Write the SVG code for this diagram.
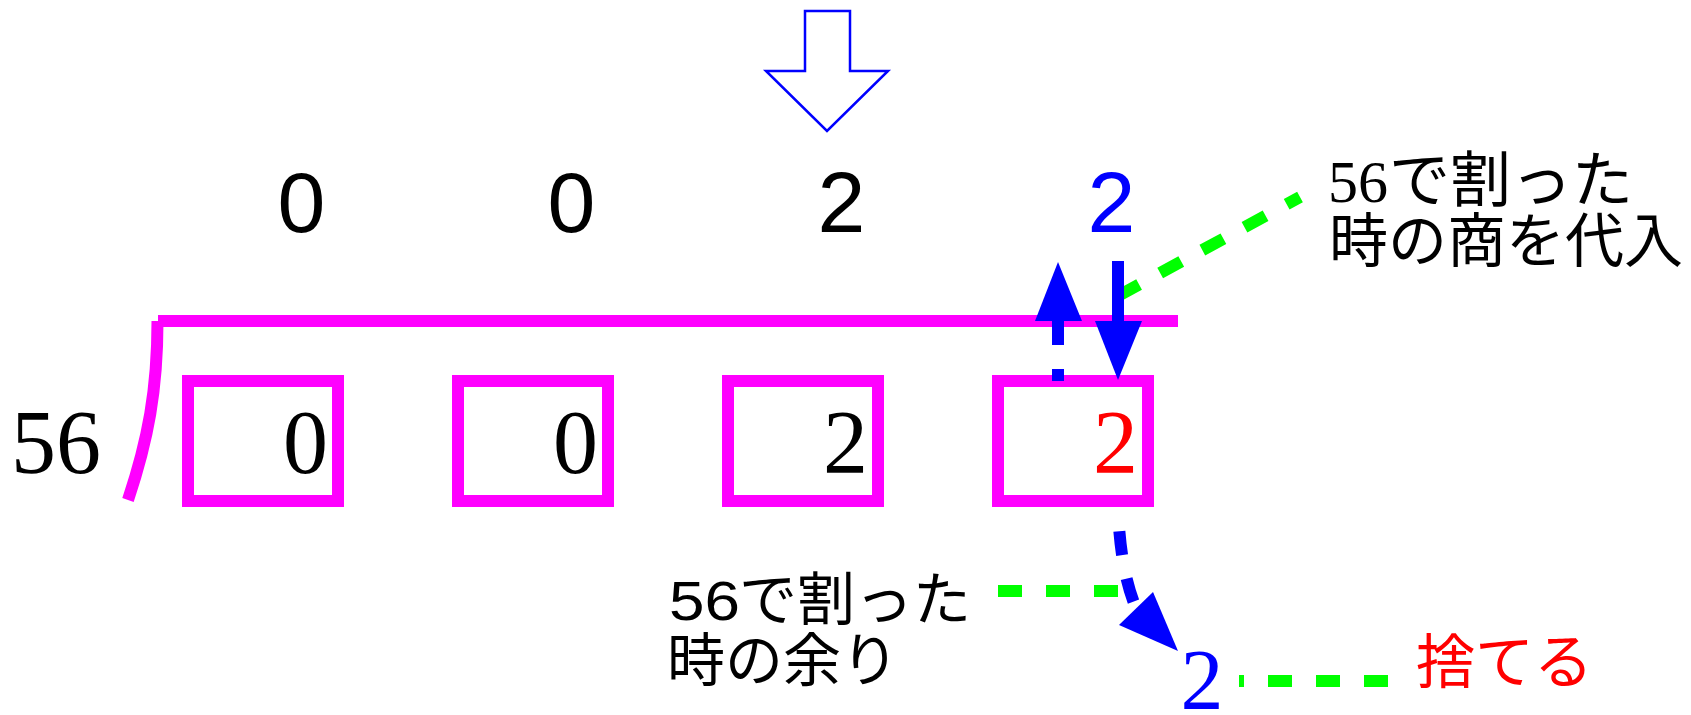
<svg xmlns="http://www.w3.org/2000/svg" width="1691" height="715" viewBox="0 0 1691 715">
<style>
.mag{fill:none;stroke:#ff00ff;stroke-width:12}
.shaft{fill:none;stroke:#0000ff;stroke-width:12}
.head{fill:#0000ff;stroke:none}
.green{fill:none;stroke:#00ff00;stroke-width:12;stroke-dasharray:24 24}
.sans{font-family:"Liberation Sans","Noto Sans CJK JP",sans-serif}
.serif{font-family:"Liberation Serif","DejaVu Serif",serif}
.jp{font-family:"Noto Sans CJK JP",sans-serif}
.qd{font-size:86px;text-anchor:middle}
.bd{font-size:90px;text-anchor:end}
</style>
<rect width="1691" height="715" fill="#ffffff"/>

<g id="pointer-arrow">
<polygon points="805,11 850,11 850,71 888,71 827,131 766,71 805,71" fill="#ffffff" stroke="#0000ff" stroke-width="2.5" stroke-linejoin="miter"/>
</g>

<g id="quotient-digits" class="sans qd">
<text id="q0" x="301.5" y="232">0</text>
<text id="q1" x="571.5" y="232">0</text>
<text id="q2" x="841.5" y="232">2</text>
<text id="q3" x="1111.5" y="232" fill="#0000ff">2</text>
</g>

<g id="division-bracket">
<path class="mag" d="M158 321 H1178"/>
<path class="mag" d="M157.5 321 C157.5 390 148 440 128 500"/>
</g>

<g id="divisor">
<text class="serif" x="101" y="473" font-size="90" text-anchor="end">56</text>
</g>

<g id="box1"><rect class="mag" x="188" y="381" width="150" height="120"/><text class="serif bd" x="328" y="473">0</text></g>
<g id="box2"><rect class="mag" x="458" y="381" width="150" height="120"/><text class="serif bd" x="598" y="473">0</text></g>
<g id="box3"><rect class="mag" x="728" y="381" width="150" height="120"/><text class="serif bd" x="868" y="473">2</text></g>
<g id="box4"><rect class="mag" x="998" y="381" width="150" height="120"/><text class="serif bd" x="1138" y="473" fill="#ff0000">2</text></g>

<g id="connectors">
<path class="green" d="M1118 296 L1300 197"/>
<path class="green" d="M998 591 H1118"/>
<path class="green" d="M1239 681 H1388" stroke-dashoffset="19"/>
<path class="shaft" d="M1058 381 V321" stroke-dasharray="12 24 24"/>
<polygon class="head" points="1058,262 1035,321 1082,321"/>
<path class="shaft" d="M1118 261 V322"/>
<polygon class="head" points="1095,321 1142,321 1118,380"/>
<path class="shaft" d="M1118 507 Q1120 570 1136 608" stroke-width="11" stroke-dasharray="24 24" stroke-dashoffset="24"/>
<polygon class="head" points="1153,592 1119,625 1178,651"/>
</g>

<g id="label-quotient">
<text class="serif" x="1328" y="202" font-size="60">56</text>
<text class="jp" x="1389" y="202" font-size="61">で割った</text>
<text class="jp" x="1329" y="262" font-size="59">時の商を代入</text>
</g>

<g id="label-remainder">
<text class="sans" x="669" y="620" font-size="55" textLength="71" lengthAdjust="spacingAndGlyphs">56</text>
<text class="jp" x="739" y="620" font-size="58">で割った</text>
<text class="jp" x="667" y="681" font-size="58">時の余り</text>
</g>

<g id="remainder">
<text class="serif" x="1202" y="709" font-size="86" text-anchor="middle" fill="#0000ff">2</text>
</g>

<g id="discard">
<text class="jp" x="1416" y="683" font-size="59" fill="#ff0000">捨てる</text>
</g>
</svg>
